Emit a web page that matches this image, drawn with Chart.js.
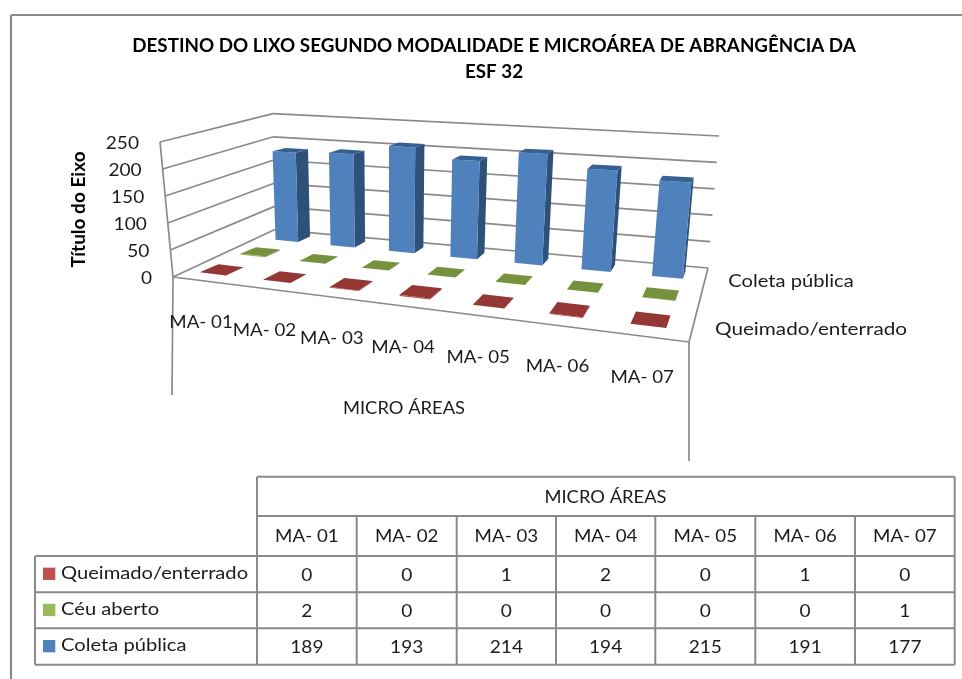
<!DOCTYPE html>
<html lang="pt"><head><meta charset="utf-8">
<style>html,body{margin:0;padding:0;background:#fff}canvas{display:block}</style>
<script src="https://cdn.jsdelivr.net/npm/chart.js@4"></script>
</head><body><canvas id="c" width="962" height="679"></canvas>
<script>
const categories=['MA- 01','MA- 02','MA- 03','MA- 04','MA- 05','MA- 06','MA- 07'];
const queimado=[0,0,1,2,0,1,0];
const ceuAberto=[2,0,0,0,0,0,1];
const coleta=[189,193,214,194,215,191,177];
const seriesNames=['Queimado/enterrado','Céu aberto','Coleta pública'];
const yTicks=[0,50,100,150,200,250];
const titleLines=['DESTINO DO LIXO SEGUNDO MODALIDADE E MICROÁREA DE ABRANGÊNCIA DA','ESF 32'];
const axisTitleX='MICRO ÁREAS';
const axisTitleY='Título do Eixo';

const FF='Lato, Carlito, sans-serif';
const INK='#1c1c1c', LINE='#8a8a8a';
const faces=[
 {front:'#C0504D',side:'#7f302e',top:'#953735'},
 {front:'#9BBB59',side:'#5f7530',top:'#76923C'},
 {front:'#4F81BD',side:'#2f5079',top:'#376092'}];
// projected box corners
const D=[173,277],C=[689,342],B=[708,268],A=[275,229.6];
const Dt=[160,142],Bt=[719,136],At=[273,113.6];
const depthCentre=[0.195,0.53,0.85], depthSize=[0.15,0.14,0.125], widthFrac=0.42;

function quadMap(p0,p1,p2,p3){ // (0,0)->p0 (1,0)->p1 (1,1)->p2 (0,1)->p3
  const dx1=p1[0]-p2[0],dx2=p3[0]-p2[0],sx=p0[0]-p1[0]+p2[0]-p3[0];
  const dy1=p1[1]-p2[1],dy2=p3[1]-p2[1],sy=p0[1]-p1[1]+p2[1]-p3[1];
  const det=dx1*dy2-dx2*dy1;
  const g=(sx*dy2-dx2*sy)/det,h=(dx1*sy-sx*dy1)/det;
  const a=p1[0]-p0[0]+g*p1[0],b=p3[0]-p0[0]+h*p3[0],c=p0[0];
  const d=p1[1]-p0[1]+g*p1[1],e=p3[1]-p0[1]+h*p3[1],f=p0[1];
  return (u,v)=>{const w=g*u+h*v+1;return [(a*u+b*v+c)/w,(d*u+e*v+f)/w];};
}
const rawFloor=quadMap(D,C,B,A);
const floorMap=(u,v)=>rawFloor(u+0.023*Math.sin(Math.PI*u),v);
const mix=(p,q,t)=>[p[0]+(q[0]-p[0])*t,p[1]+(q[1]-p[1])*t];
// a point above the floor: uprights grow towards the viewer and fan out slightly
const P=(u,v,h)=>{
  const f=floorMap(u,v),H=(112+0.49*(f[1]-229.6))*h;
  f[0]+=14*(v-0.5)*Math.pow(1-u,3);
  return [f[0]+(f[0]-388)*0.0003*H,f[1]-H];
};

function poly(ctx,pts,fill){
  ctx.beginPath();pts.forEach((p,i)=>i?ctx.lineTo(p[0],p[1]):ctx.moveTo(p[0],p[1]));ctx.closePath();
  ctx.fillStyle=fill;ctx.fill();
}
function seg(ctx,p,q,w){
  ctx.beginPath();ctx.moveTo(p[0],p[1]);ctx.lineTo(q[0],q[1]);ctx.lineWidth=w||1.7;ctx.strokeStyle=LINE;ctx.stroke();
}
function text(ctx,s,x,y,opt){
  opt=opt||{};ctx.save();
  ctx.font=(opt.weight?opt.weight+' ':'')+(opt.size||18)+'px '+FF;
  ctx.fillStyle=opt.color||INK;ctx.textAlign=opt.align||'center';ctx.textBaseline='middle';
  ctx.translate(x,y);ctx.scale(opt.sx||1.12,1);ctx.fillText(s,0,0);ctx.restore();
}
const scene={
  id:'scene',
  beforeDraw(chart){
    const ctx=chart.ctx;ctx.save();
    ctx.fillStyle='#fff';ctx.fillRect(0,0,chart.width,chart.height);
    seg(ctx,[11,679],[11,15],2.2);seg(ctx,[11,15],[962,15],2.2);
    ctx.restore();
  },
  beforeDatasetsDraw(chart){
    const ctx=chart.ctx,xs=chart.scales.x,ys=chart.scales.y,a=chart.chartArea;
    ctx.save();
    const hOf=v=>(a.bottom-ys.getPixelForValue(v))/(a.bottom-a.top);
    // walls
    yTicks.forEach(t=>{
      const h=hOf(t);
      seg(ctx,mix(D,Dt,h),mix(A,At,h));
      seg(ctx,mix(A,At,h),mix(B,Bt,h));
    });
    seg(ctx,D,Dt);seg(ctx,D,C);seg(ctx,C,B);
    seg(ctx,D,[D[0]-1,395]);seg(ctx,C,[C[0],461]);
    // y ticks follow the tilted front edge
    yTicks.forEach(t=>{
      const h=hOf(t),e=mix(D,Dt,h);
      text(ctx,String(t),e[0]-21,e[1]+1.5,{align:'right',sx:1.06});
    });
    // boxes: back series first
    const step=(xs.getPixelForValue(1)-xs.getPixelForValue(0))/(a.right-a.left);
    for(let s=chart.data.datasets.length-1;s>=0;s--){
      const f=faces[s],vals=chart.data.datasets[s].data;
      const v0=depthCentre[s]-depthSize[s]/2,v1=depthCentre[s]+depthSize[s]/2;
      vals.forEach((val,i)=>{
        const uc=(xs.getPixelForValue(i)-a.left)/(a.right-a.left);
        const u0=uc-step*widthFrac/2,u1=uc+step*widthFrac/2,h=hOf(val);
        poly(ctx,[P(u1,v0,0),P(u1,v1,0),P(u1,v1,h),P(u1,v0,h)],f.side);
        poly(ctx,[P(u0,v0,0),P(u1,v0,0),P(u1,v0,h),P(u0,v0,h)],f.front);
        poly(ctx,[P(u0,v0,h),P(u1,v0,h),P(u1,v1,h),P(u0,v1,h)],f.top);
      });
    }
    // category labels below the front edge
    categories.forEach((c,i)=>{
      const uc=(xs.getPixelForValue(i)-a.left)/(a.right-a.left),p=floorMap(uc,0);
      text(ctx,c,p[0]-2,p[1]+41,{sx:1.04});
    });
    text(ctx,axisTitleX,404,408,{sx:1.02});
    text(ctx,seriesNames[2],791,281);
    text(ctx,seriesNames[0],811,329,{sx:1.15});
    ctx.restore();
    return false;
  },
  afterDraw(chart){
    const ctx=chart.ctx;ctx.save();
    const cols=[257,356.7,456.7,556,655.3,755.3,855,954.7];
    const rows=[476.7,516,556,592.3,628.3,664.7];
    rows.forEach((y,i)=>seg(ctx,[i>=2?35:cols[0],y],[cols[7],y],2));
    cols.forEach((x,i)=>seg(ctx,[x,(i===0||i===7)?rows[0]:rows[1]],[x,rows[5]],2));
    seg(ctx,[35,rows[2]],[35,rows[5]],2);
    text(ctx,axisTitleX,605.5,497,{sx:1.02});
    categories.forEach((c,i)=>text(ctx,c,(cols[i]+cols[i+1])/2,536,{sx:1.04}));
    chart.data.datasets.forEach((ds,s)=>{
      const yc=(rows[s+2]+rows[s+3])/2;
      ctx.fillStyle=faces[s].front;ctx.fillRect(43,yc-6.5,12.3,12.3);
      text(ctx,ds.label,61,yc-1,{align:'left'});
      ds.data.forEach((v,i)=>text(ctx,String(v),(cols[i]+cols[i+1])/2,yc+1,{sx:1.06}));
    });
    ctx.restore();
  }
};
new Chart(document.getElementById('c'),{
  type:'bar',
  data:{labels:categories,datasets:[
    {label:seriesNames[0],data:queimado,backgroundColor:faces[0].front},
    {label:seriesNames[1],data:ceuAberto,backgroundColor:faces[1].front},
    {label:seriesNames[2],data:coleta,backgroundColor:faces[2].front}]},
  options:{
    responsive:false,animation:false,
    layout:{padding:{left:33,right:7,top:0,bottom:402}},
    plugins:{
      legend:{display:false},tooltip:{enabled:false},
      title:{display:true,text:titleLines,color:'#000',
        font:{family:FF,size:18.8,weight:'bold',lineHeight:1.38},padding:{top:33,bottom:57}}
    },
    scales:{
      x:{display:false},
      y:{min:0,max:250,afterFit:s=>{s.width=139;},
        ticks:{display:false,stepSize:50},grid:{display:false},border:{display:false},
        title:{display:true,text:axisTitleY,color:'#000',font:{family:FF,size:19,weight:'bold'},padding:{top:34,bottom:0}}}
    }
  },
  plugins:[scene]
});
</script></body></html>
